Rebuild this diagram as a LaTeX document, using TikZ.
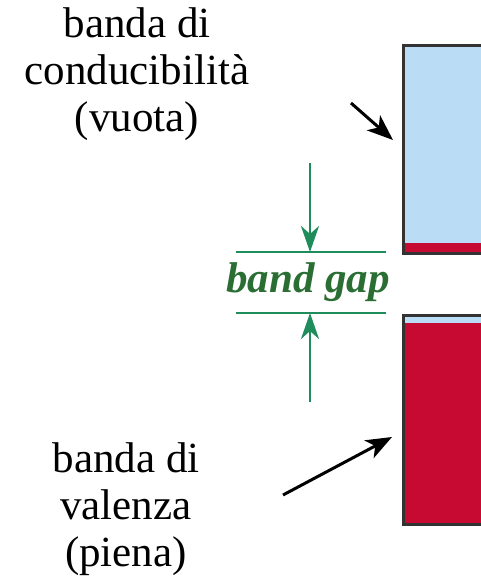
\documentclass[tikz,border=0pt]{standalone}
\usepackage{fontspec}
\setmainfont{Liberation Serif}
\usetikzlibrary{arrows.meta}
\definecolor{bandblue}{HTML}{BBDCF5}
\definecolor{bandred}{HTML}{C70A32}
\definecolor{gapgreen}{HTML}{1F8C5C}
\definecolor{gaptext}{HTML}{2A6E34}
\tikzset{
  lbl/.style={align=center, inner sep=0pt, font=\fontsize{43}{47}\selectfont},
  pointer/.style={line width=3pt, -{Stealth[length=26pt,width=20pt,inset=7pt]}},
  gaparrow/.style={gapgreen, line width=2.8pt, -{Stealth[length=26pt,width=18pt,inset=8pt]}},
  gapline/.style={gapgreen, line width=2.8pt},
  boxline/.style={draw=black!80, line width=2.6pt},
}
\begin{document}
\begin{tikzpicture}[x=1pt,y=-1pt]
\useasboundingbox (0,0) rectangle (481,578);
% conduction band
\fill[bandblue] (402,44) rectangle (495,252);
\fill[bandred] (402,243) rectangle (495,252);
\node[boxline, minimum width=93pt, minimum height=208pt, inner sep=0pt, anchor=north west] (cb) at (402,44) {};
% valence band
\fill[bandred] (402,314) rectangle (495,523);
\fill[bandblue] (402,314) rectangle (495,323);
\node[boxline, minimum width=93pt, minimum height=209pt, inner sep=0pt, anchor=north west] (vb) at (402,314) {};
% labels (anchor=base is the baseline of the last line)
\node[lbl, anchor=base] (ctext) at (137,131) {banda di\\conducibilità\\(vuota)};
\node[lbl, anchor=base] (vtext) at (126,566) {banda di\\valenza\\(piena)};
\coordinate (cs) at (351,103);
\coordinate (ce) at (393,140);
\coordinate (vs) at (283,495);
\coordinate (ve) at (392,437);
\draw[pointer] (cs) -- (ce);
\draw[pointer] (vs) -- (ve);
% band gap
\coordinate (gl1) at (236,252);
\coordinate (gr1) at (386,252);
\coordinate (gl2) at (236,313);
\coordinate (gr2) at (386,313);
\coordinate (ta) at (310,163);
\coordinate (ba) at (310,402);
\draw[gapline] (gl1) -- (gr1);
\draw[gapline] (gl2) -- (gr2);
\draw[gaparrow] (ta) -- (ta |- gl1);
\draw[gaparrow] (ba) -- (ba |- gl2);
\node[inner sep=0pt, anchor=base, text=gaptext, font=\fontsize{43}{47}\selectfont\bfseries\itshape] (gap) at (308,292) {band gap};
\end{tikzpicture}
\end{document}
